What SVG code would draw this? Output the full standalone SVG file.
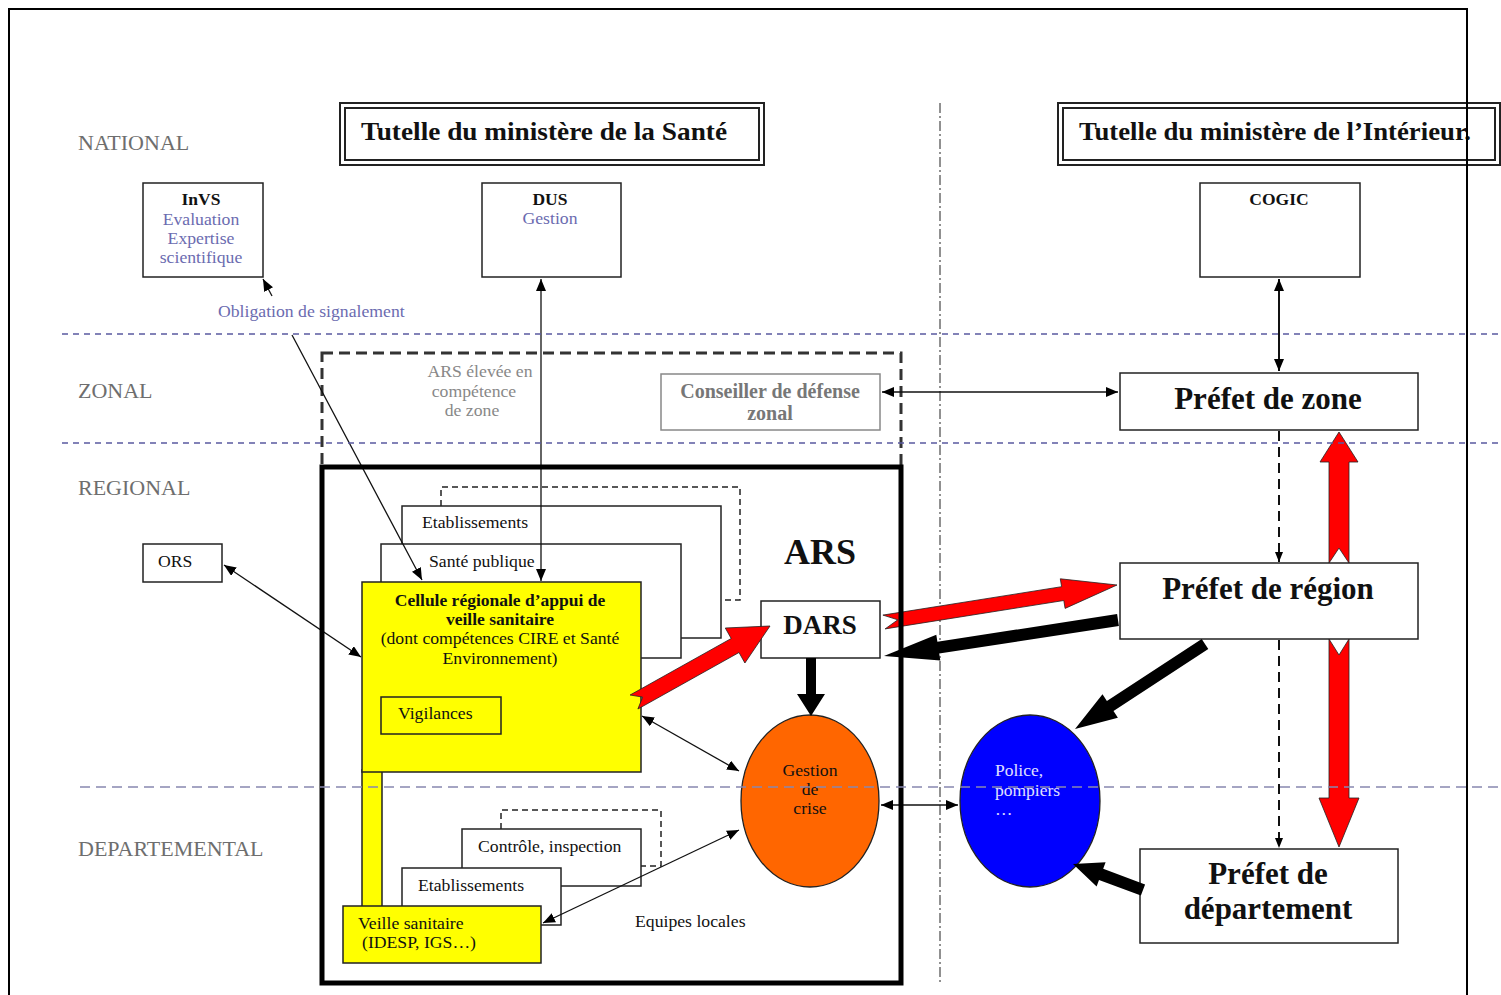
<svg xmlns="http://www.w3.org/2000/svg" width="1501" height="995" viewBox="0 0 1501 995">
<style>
text{font-family:"Liberation Serif","Times New Roman",serif;}
.lvl{font-size:22px;fill:#6e6e6e;}
.box{fill:#fff;stroke:#222;stroke-width:1.5;}
.yel{fill:#ffff00;stroke:#222;stroke-width:1.5;}
.t15{font-size:17.7px;fill:#111;}
.blu{font-size:17.7px;fill:#6b6bb0;}
.b15{font-size:17.5px;font-weight:bold;fill:#111;}
.big{font-size:31px;font-weight:bold;fill:#111;text-anchor:middle;}
.ttl{font-size:26px;font-weight:bold;fill:#111;}
.hd{stroke:#5a5aa0;stroke-width:1.3;stroke-dasharray:6 5;fill:none;}
.thin{stroke:#111;stroke-width:1.3;fill:none;}
.mid{text-anchor:middle;}
</style>
<defs>
<marker id="ah" viewBox="0 0 12 10" refX="12" refY="5" markerWidth="12" markerHeight="10" orient="auto-start-reverse" markerUnits="userSpaceOnUse"><path d="M0,0 L12,5 L0,10 z" fill="#000"/></marker>
<marker id="ahs" viewBox="0 0 10 8" refX="10" refY="4" markerWidth="10" markerHeight="8" orient="auto-start-reverse" markerUnits="userSpaceOnUse"><path d="M0,0 L10,4 L0,8 z" fill="#000"/></marker>
</defs>
<rect width="1501" height="995" fill="#fff"/>

<g id="levels">
<text class="lvl" x="78" y="150">NATIONAL</text>
<text class="lvl" x="78" y="398">ZONAL</text>
<text class="lvl" x="78" y="495">REGIONAL</text>
<text class="lvl" x="78" y="856">DEPARTEMENTAL</text>
</g>

<line x1="940" y1="103" x2="940" y2="985" stroke="#222" stroke-width="1" stroke-dasharray="10 3 2 3"/>

<rect x="322" y="353" width="579" height="114" fill="none" stroke="#333" stroke-width="3" stroke-dasharray="11 6"/>

<g id="tutelle-sante">
<rect x="340" y="103" width="424" height="62" fill="#fff" stroke="#222" stroke-width="2"/>
<rect x="345" y="108" width="414" height="52" fill="none" stroke="#222" stroke-width="2"/>
<text class="ttl" x="361" y="140" textLength="366" lengthAdjust="spacingAndGlyphs">Tutelle du ministère de la  Santé</text>
</g>
<g id="tutelle-interieur">
<rect x="1058" y="103" width="442" height="62" fill="#fff" stroke="#222" stroke-width="2"/>
<rect x="1063" y="108" width="432" height="52" fill="none" stroke="#222" stroke-width="2"/>
<text class="ttl" x="1079" y="140" textLength="392" lengthAdjust="spacingAndGlyphs">Tutelle du ministère de l’Intérieur.</text>
</g>

<g id="invs">
<rect class="box" x="143" y="183" width="120" height="94"/>
<text class="b15 mid" x="201" y="205">InVS</text>
<text class="blu mid" x="201" y="225">Evaluation</text>
<text class="blu mid" x="201" y="244">Expertise</text>
<text class="blu mid" x="201" y="263">scientifique</text>
</g>
<g id="dus">
<rect class="box" x="482" y="183" width="139" height="94"/>
<text class="b15 mid" x="550" y="205">DUS</text>
<text class="blu mid" x="550" y="224">Gestion</text>
</g>
<g id="cogic">
<rect class="box" x="1200" y="183" width="160" height="94"/>
<text class="b15 mid" x="1279" y="205">COGIC</text>
</g>
<text class="blu" x="218" y="317">Obligation de signalement</text>

<g id="ars-zone-label">
<text font-size="17.7" fill="#888" x="480" y="377" text-anchor="middle">ARS élevée en</text>
<text font-size="17.7" fill="#888" x="474" y="397" text-anchor="middle">compétence</text>
<text font-size="17.7" fill="#888" x="472" y="416" text-anchor="middle">de zone</text>
</g>
<g id="conseiller">
<rect x="661" y="374" width="219" height="56" fill="#fff" stroke="#888" stroke-width="1.5"/>
<text font-size="20" font-weight="bold" fill="#777" x="770" y="398" text-anchor="middle">Conseiller de défense</text>
<text font-size="20" font-weight="bold" fill="#777" x="770" y="420" text-anchor="middle">zonal</text>
</g>
<g id="prefet-zone">
<rect class="box" x="1120" y="373" width="298" height="57"/>
<text class="big" x="1268" y="409">Préfet de zone</text>
</g>
<g id="ors">
<rect class="box" x="143" y="544" width="79" height="38"/>
<text class="t15" x="158" y="567">ORS</text>
</g>

<g id="etab-reg">
<path d="M441,506 V487 H740 V600 H721" fill="none" stroke="#222" stroke-width="1.5" stroke-dasharray="6 4"/>
<rect class="box" x="402" y="506" width="319" height="132"/>
<text class="t15" x="422" y="528">Etablissements</text>
</g>
<g id="sante-pub">
<rect class="box" x="381" y="544" width="300" height="114"/>
<text class="t15" x="429" y="567">Santé publique</text>
</g>
<g id="strip">
<rect class="yel" x="362" y="770" width="20" height="138"/>
</g>
<g id="cellule">
<rect class="yel" x="362" y="582" width="279" height="190"/>
<text class="b15 mid" x="500" y="606">Cellule régionale d’appui de</text>
<text class="b15 mid" x="500" y="625">veille sanitaire</text>
<text class="t15 mid" x="500" y="644">(dont compétences CIRE et Santé</text>
<text class="t15 mid" x="500" y="664">Environnement)</text>
</g>
<g id="vigilances">
<rect x="381" y="697" width="120" height="37" fill="none" stroke="#222" stroke-width="1.5"/>
<text class="t15" x="398" y="719">Vigilances</text>
</g>

<g id="controle">
<path d="M501,829 V810 H661 V866 H641" fill="none" stroke="#222" stroke-width="1.5" stroke-dasharray="6 4"/>
<rect class="box" x="462" y="829" width="179" height="57"/>
<text class="t15" x="478" y="852">Contrôle, inspection</text>
</g>
<g id="etab-dep">
<rect class="box" x="402" y="868" width="159" height="57"/>
<text class="t15" x="418" y="891">Etablissements</text>
</g>
<g id="veille">
<rect class="yel" x="343" y="906" width="198" height="57"/>
<text class="t15" x="358" y="929">Veille sanitaire</text>
<text class="t15" x="362" y="948">(IDESP, IGS…)</text>
</g>
<text class="t15" x="635" y="927">Equipes locales</text>

<g id="dars">
<rect class="box" x="761" y="601" width="119" height="57"/>
<text font-size="27" font-weight="bold" fill="#111" x="820" y="634" text-anchor="middle">DARS</text>
</g>
<text font-size="36" font-weight="bold" fill="#111" x="820" y="564" text-anchor="middle">ARS</text>

<g id="gestion">
<ellipse cx="810" cy="801" rx="69" ry="86" fill="#ff6600" stroke="#222" stroke-width="1.3"/>
<text class="t15 mid" x="810" y="776">Gestion</text>
<text class="t15 mid" x="810" y="795">de</text>
<text class="t15 mid" x="810" y="814">crise</text>
</g>
<g id="police">
<ellipse cx="1030" cy="801" rx="70" ry="86" fill="#0000ff" stroke="#222" stroke-width="1.3"/>
<text font-size="17.5" fill="#e0e0ff" x="995" y="776">Police,</text>
<text font-size="17.5" fill="#e0e0ff" x="995" y="796">pompiers</text>
<text font-size="17.5" fill="#e0e0ff" x="995" y="815">…</text>
</g>

<g id="prefet-region">
<rect class="box" x="1120" y="563" width="298" height="76"/>
<text class="big" x="1268" y="599">Préfet de région</text>
</g>
<g id="prefet-dep">
<rect class="box" x="1140" y="849" width="258" height="94"/>
<text class="big" x="1268" y="884">Préfet de</text>
<text class="big" x="1268" y="919">département</text>
</g>

<g id="connectors">
<line class="thin" x1="292" y1="335" x2="422" y2="580" marker-end="url(#ah)"/>
<line class="thin" x1="272" y1="296" x2="263" y2="279" marker-end="url(#ah)"/>
<line class="thin" x1="541" y1="279" x2="541" y2="581" marker-start="url(#ah)" marker-end="url(#ah)"/>
<line class="thin" x1="224" y1="565" x2="361" y2="657" marker-start="url(#ah)" marker-end="url(#ah)"/>
<line class="thin" x1="642" y1="716" x2="739" y2="771" marker-start="url(#ah)" marker-end="url(#ah)"/>
<line class="thin" x1="543" y1="923" x2="739" y2="830" marker-start="url(#ah)" marker-end="url(#ah)"/>
<line class="thin" x1="881" y1="805" x2="958" y2="805" marker-start="url(#ah)" marker-end="url(#ah)"/>
<line class="thin" x1="882" y1="392" x2="1118" y2="392" marker-start="url(#ah)" marker-end="url(#ah)"/>
<line x1="1279" y1="279" x2="1279" y2="371" stroke="#111" stroke-width="2" marker-start="url(#ah)" marker-end="url(#ah)"/>
<line x1="1279" y1="431" x2="1279" y2="562" stroke="#111" stroke-width="2" stroke-dasharray="10 6" marker-end="url(#ahs)"/>
<line x1="1279" y1="640" x2="1279" y2="848" stroke="#111" stroke-width="2" stroke-dasharray="10 6" marker-end="url(#ahs)"/>
<polygon points="637.9,709 739,652.5 744.9,663 770,626 725.3,628 731.2,638.5 630.1,695 642.7,697.1" fill="#ff0000" stroke="#222" stroke-width="0.8"/>
<polygon points="885.1,628.9 1063.8,600.5 1065.1,608.4 1117,585 1060.3,578.8 1061.6,586.7 882.9,615.1 897.8,619.8" fill="#ff0000" stroke="#222" stroke-width="0.8"/>
<polygon points="1339,432 1358,462 1349,462 1349,563 1339,548 1329,563 1329,462 1320,462" fill="#ff0000" stroke="#222" stroke-width="0.8"/>
<polygon points="1329,639 1339,655 1349,639 1349,798 1359,798 1339,847 1319,798 1329,798" fill="#ff0000" stroke="#222" stroke-width="0.8"/>
<polygon points="1118.9,625.9 939.2,653.5 940.3,660.4 884,656 936.3,634.8 937.4,641.7 1117.1,614.1" fill="#000"/>
<polygon points="806,658 816,658 816,694 825,694 811,716 797,694 806,694" fill="#000"/>
<polygon points="1208.3,649 1113.5,711 1117.9,717.7 1075,729 1102.5,694.3 1106.9,701 1201.7,639" fill="#000"/>
<polygon points="1145.1,884.4 1103.2,868.8 1105.6,862.2 1073,864 1096.6,886.6 1099,880 1140.9,895.6" fill="#000"/>
</g>

<g id="ars">
<rect x="322" y="467" width="579" height="516" fill="none" stroke="#000" stroke-width="5"/>
</g>

<g id="separators">
<line class="hd" x1="62" y1="334" x2="1501" y2="334"/>
<line class="hd" x1="62" y1="443" x2="1501" y2="443"/>
<line x1="80" y1="787" x2="1501" y2="787" stroke="#8888b0" stroke-width="1.3" stroke-dasharray="10 6"/>
</g>

<path d="M9,995 V9 H1467 V995" fill="none" stroke="#000" stroke-width="2"/>
</svg>
